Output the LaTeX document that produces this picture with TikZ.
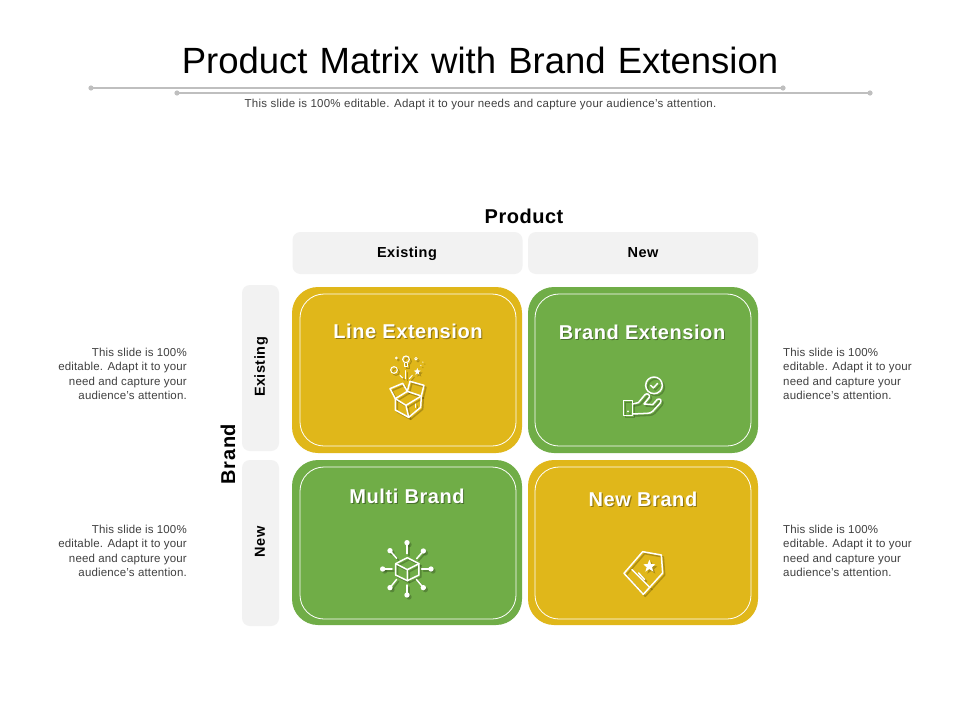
\documentclass[tikz,border=0pt]{standalone}
\usepackage{fontspec}
\setmainfont{Liberation Sans}
\newfontfamily\titlefam[WordSpace=1.2]{Liberation Sans}
\definecolor{ybrand}{HTML}{E0B71A}
\definecolor{gbrand}{HTML}{70AD47}
\definecolor{pale}{HTML}{F2F2F2}
\definecolor{rulegray}{HTML}{BFBFBF}
\definecolor{softtxt}{HTML}{404040}
\newcommand\fs[1]{\fontsize{#1}{#1}\selectfont}
\newcommand\ls[1]{\addfontfeatures{LetterSpace=#1}}
\newcommand\twice[2]{%
  \begin{scope}[shift={(2pt,-2pt)},draw=black!55!#1,fill=black!55!#1,draw opacity=.4,fill opacity=.4,line width=1.5pt,line join=round,line cap=round]#2\end{scope}%
  \begin{scope}[draw=white,fill=white,line width=1.5pt,line join=round,line cap=round]#2\end{scope}}
\newcommand\shtext[2]{\makebox[0pt][l]{\kern1.1pt\raisebox{-1.1pt}{\textcolor{black!35!#1}{#2}}}#2}
\tikzset{
  paleh/.style={fill=pale,rounded corners=8pt,inner sep=0pt,minimum width=230pt,minimum height=42pt},
  palev/.style={fill=pale,rounded corners=8pt,inner sep=0pt,minimum width=37pt,minimum height=166pt},
  headtxt/.style={font=\fs{14.5}\bfseries\ls{3.4},text=black,inner sep=0pt,text height=10.5pt,text depth=3pt},
  sidetxt/.style={font=\fs{11.5}\ls{1.4},text=softtxt,inner sep=0pt,align=#1},
  dotg/.style={fill=rulegray,draw=none},
  cardtitle/.style={font=\fs{20}\bfseries\ls{2.9},text=white,inner sep=0pt},
  cardline/.style={white,line width=.8pt,rounded corners=24pt},
}
\begin{document}
\begin{tikzpicture}[x=1pt,y=-1pt]
\useasboundingbox[fill=white] (0,0) rectangle (960,720);
\node[inner sep=0pt,font=\titlefam\fs{36.5}] (title) at (480,60) {Product Matrix with Brand Extension};
\coordinate (a1) at (91,88);\coordinate (a2) at (783,88);\coordinate (b1) at (177,93);\coordinate (b2) at (870,93);
\draw[rulegray,line width=1.2pt] (a1)--(a2);\draw[rulegray,line width=1.2pt] (b1)--(b2);
\foreach \p in {a1,a2,b1,b2}\fill[dotg] (\p) circle (2.6pt);
\node[inner sep=0pt,font=\fs{11.5}\ls{2.1},text=softtxt] (subt) at (480.5,104.5) {This slide is 100\% editable. Adapt it to your needs and capture your audience’s attention.};
\node[font=\fs{20}\bfseries\ls{2.5},inner sep=0pt] (prod) at (524,216) {Product};
\node[paleh] (hex) at (407.5,253) {};
\node[paleh] (hnw) at (643,253) {};
\node[headtxt] (hext) at (407,254) {Existing};
\node[headtxt] (hnwt) at (643,254) {New};
\node[palev] (vex) at (260.5,368) {};
\node[palev] (vnw) at (260.5,543) {};
\node[headtxt,rotate=90] (vext) at (261,367) {Existing};
\node[headtxt,rotate=90] (vnwt) at (261,542) {New};
\node[rotate=90,font=\fs{20}\bfseries\ls{3},inner sep=0pt] (brand) at (228,454) {Brand};
% cards
\fill[ybrand,rounded corners=26pt] (292,287) rectangle (522,453);
\fill[gbrand,rounded corners=26pt] (528,287) rectangle (758,453);
\fill[gbrand,rounded corners=26pt] (292,460) rectangle (522,625);
\fill[ybrand,rounded corners=26pt] (528,460) rectangle (758,625);
\draw[cardline] (300,294) rectangle (516,446);
\draw[cardline] (535,294) rectangle (751,446);
\draw[cardline] (300,467) rectangle (516,619);
\draw[cardline] (535,467) rectangle (751,619);
\node[cardtitle] (c1) at (408,332) {\shtext{ybrand}{Line Extension}};
\node[cardtitle] (c2) at (642,333) {\shtext{gbrand}{Brand Extension}};
\node[cardtitle] (c3) at (407,497) {\shtext{gbrand}{Multi Brand}};
\node[cardtitle] (c4) at (643,500) {\shtext{ybrand}{New Brand}};
% side text
\node[sidetxt=right,anchor=east] (l1) at (187,374) {This slide is 100\%\\[2.9pt]editable. Adapt it to your\\[2.9pt]need and capture your\\[2.9pt]audience’s attention.};
\node[sidetxt=right,anchor=east] (l2) at (187,551) {This slide is 100\%\\[2.9pt]editable. Adapt it to your\\[2.9pt]need and capture your\\[2.9pt]audience’s attention.};
\node[sidetxt=left,anchor=west] (r1) at (783,374) {This slide is 100\%\\[2.9pt]editable. Adapt it to your\\[2.9pt]need and capture your\\[2.9pt]audience’s attention.};
\node[sidetxt=left,anchor=west] (r2) at (783,551) {This slide is 100\%\\[2.9pt]editable. Adapt it to your\\[2.9pt]need and capture your\\[2.9pt]audience’s attention.};
% icon: box with ideas
\begin{scope}[shift={(330,300)},x=.3333pt,y=-.3333pt]
\twice{ybrand}{
 \draw (196,296)--(228,316)--(274,288);
 \draw (196,296)--(232,274)--(274,288);
 \draw (196,296)--(196,330)--(236,352)--(272,322)--(274,288);
 \draw (228,316)--(236,352);
 \draw (196,296)--(180,266)--(218,250)--(232,274);
 \draw (232,274)--(240,244)--(282,256)--(274,288);
 \draw[line width=1.1pt] (228,178) circle (10);
 \draw[line width=1.1pt] (224,190)--(224,200)--(232,200)--(232,190);
 \draw[line width=1pt] (228,212)--(228,236);
 \draw[line width=.8pt] (199,174) circle (3);
 \draw[line width=.8pt] (258,176) circle (4);
 \draw[line width=1pt] (192,210) circle (10);
 \fill (262,204)--(265,211)--(272,212)--(266,217)--(268,224)--(262,220)--(256,224)--(258,217)--(252,212)--(259,211)--cycle;
 \draw[line width=1pt] (210,226)--(218,234) (247,226)--(238,236) (278,186)--(279,187) (272,196)--(273,197);
 \draw[line width=1pt] (258,312)--(258,322);
}
\end{scope}
% icon: hand with badge
\begin{scope}[shift={(570,310)},x=.3333pt,y=-.3333pt]
\twice{gbrand}{
 \draw (160,271) rectangle (187,317);
 \draw (187,282)--(205,278)--(225,254) .. controls (232,248) and (240,254) .. (238,262)--(222,282)--(248,284)--(262,268) .. controls (272,264) and (276,272) .. (270,280)--(248,304) .. controls (244,308) and (238,310) .. (232,310)--(187,312);
 \draw (252,226) circle (25);
 \draw (242,226)--(250,234)--(263,220);
 \fill (174,304) circle (3);
}
\end{scope}
% icon: hub
\begin{scope}[shift={(350,525)},x=.3333pt,y=-.3333pt]
\twice{gbrand}{
 \draw (172,98)--(207,116)--(207,150)--(172,167)--(137,150)--(137,116)--cycle;
 \draw (137,116)--(172,134)--(207,116) (172,134)--(172,167);
 \foreach \xa/\ya/\xb/\yb in {171/53/171/86,120/77/140/100,220/78/200/101,98/132/126/132,243/132/215/132,120/188/140/163,220/188/199/163,171/210/171/180}{
   \fill (\xa,\ya) circle (8);
   \draw (\xa,\ya)--(\xb,\yb);
 }
}
\end{scope}
% icon: tag
\begin{scope}[shift={(600,535)},x=.3333pt,y=-.3333pt]
\twice{ybrand}{
 \draw (72,115)--(128,50)--(184,60)--(188,114)--(130,178)--cycle;
 \draw (96,104)--(150,158);
 \draw (116,114)--(134,134);
 \fill (148,74)--(153,87)--(166,88)--(156,97)--(160,110)--(148,102)--(136,110)--(140,97)--(130,88)--(143,87)--cycle;
}
\end{scope}
\end{tikzpicture}
\end{document}
